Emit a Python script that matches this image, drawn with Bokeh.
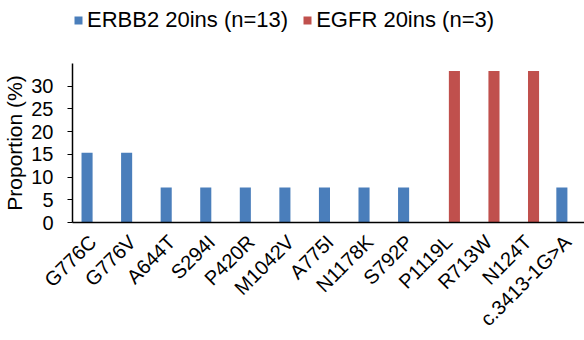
import math
from bokeh.plotting import figure
from bokeh.layouts import column
from bokeh.models import Range1d, Legend, LegendItem, ColumnDataSource, FixedTicker
from bokeh.transform import dodge
from bokeh.embed import file_html
from bokeh.resources import INLINE

categories = ["G776C", "G776V", "A644T", "S294I", "P420R", "M1042V", "A775I",
              "N1178K", "S792P", "P1119L", "R713W", "N124T", "c.3413-1G>A"]
erbb2 = [15.38, 15.38, 7.69, 7.69, 7.69, 7.69, 7.69, 7.69, 7.69, 0, 0, 0, 7.69]
egfr = [0, 0, 0, 0, 0, 0, 0, 0, 0, 33.33, 33.33, 33.33, 0]
series_names = ["ERBB2 20ins (n=13)", "EGFR 20ins (n=3)"]
y_ticks = [0, 5, 10, 15, 20, 25, 30]
y_title = "Proportion (%)"

FONT = "Liberation Sans"
BLUE = "#4a7ebb"
RED = "#c0504d"

pos = list(range(len(categories)))
src = ColumnDataSource(dict(pos=pos, erbb2=erbb2, egfr=egfr))

# ---- legend strip on top (zero-height proxy renderers) ----
p0 = figure(width=584, height=50, x_range=Range1d(0, 1), y_range=Range1d(0, 1),
            output_backend="svg", toolbar_location=None, min_border=0,
            x_axis_location=None, y_axis_location=None)
p0.outline_line_color = None
p0.grid.grid_line_color = None
d1 = p0.vbar(x=[0.5], top=[0], bottom=[0], width=0.01, color=BLUE, line_color=None)
d2 = p0.vbar(x=[0.5], top=[0], bottom=[0], width=0.01, color=RED, line_color=None)
legend = Legend(items=[LegendItem(label=series_names[0], renderers=[d1]),
                       LegendItem(label=series_names[1], renderers=[d2])],
                orientation="horizontal", location=(1, 17))
legend.label_text_font = FONT
legend.label_text_font_size = "22px"
legend.label_text_color = "black"
legend.glyph_width = 10
legend.glyph_height = 10
legend.label_standoff = 4
legend.spacing = 14
legend.border_line_color = None
legend.background_fill_alpha = 0
legend.padding = 0
legend.margin = 0
p0.add_layout(legend, "center")

# ---- main chart ----
p = figure(width=584, height=290, x_range=Range1d(-0.51, 12.43),
           y_range=Range1d(0, 35), output_backend="svg", toolbar_location=None,
           min_border_left=71, min_border_right=0, min_border_top=13,
           min_border_bottom=113)

p.vbar(x=dodge("pos", -0.142), top="erbb2", width=0.28,
       source=src, color=BLUE, line_color=None)
p.vbar(x=dodge("pos", 0.142), top="egfr", width=0.28,
       source=src, color=RED, line_color=None)

p.outline_line_color = None
p.grid.grid_line_color = None

p.yaxis.ticker = FixedTicker(ticks=y_ticks)
p.yaxis.axis_label = y_title
p.yaxis.axis_label_text_font = FONT
p.yaxis.axis_label_text_font_style = "normal"
p.yaxis.axis_label_text_font_size = "21px"
p.yaxis.axis_label_text_color = "black"
p.yaxis.axis_label_standoff = 2
p.yaxis.major_label_text_font = FONT
p.yaxis.major_label_text_font_size = "20px"
p.yaxis.major_label_text_color = "black"
p.yaxis.major_tick_out = 5
p.yaxis.major_tick_in = 0
p.yaxis.minor_tick_line_color = None
p.yaxis.axis_line_color = "black"
p.yaxis.axis_line_width = 1.5
p.yaxis.major_tick_line_color = "black"
p.yaxis.major_label_standoff = 14

p.xaxis.ticker = FixedTicker(ticks=pos)
p.xaxis.major_label_overrides = {i: c for i, c in zip(pos, categories)}
p.xaxis.major_label_orientation = math.pi / 4
p.xaxis.major_label_text_font = FONT
p.xaxis.major_label_text_font_size = "20px"
p.xaxis.major_label_text_color = "black"
p.xaxis.major_tick_line_color = None
p.xaxis.minor_tick_line_color = None
p.xaxis.axis_line_color = "black"
p.xaxis.axis_line_width = 1.5
p.xaxis.major_label_standoff = 10

layout = column(p0, p, spacing=0)
open("out.html", "w").write(file_html(layout, INLINE))
